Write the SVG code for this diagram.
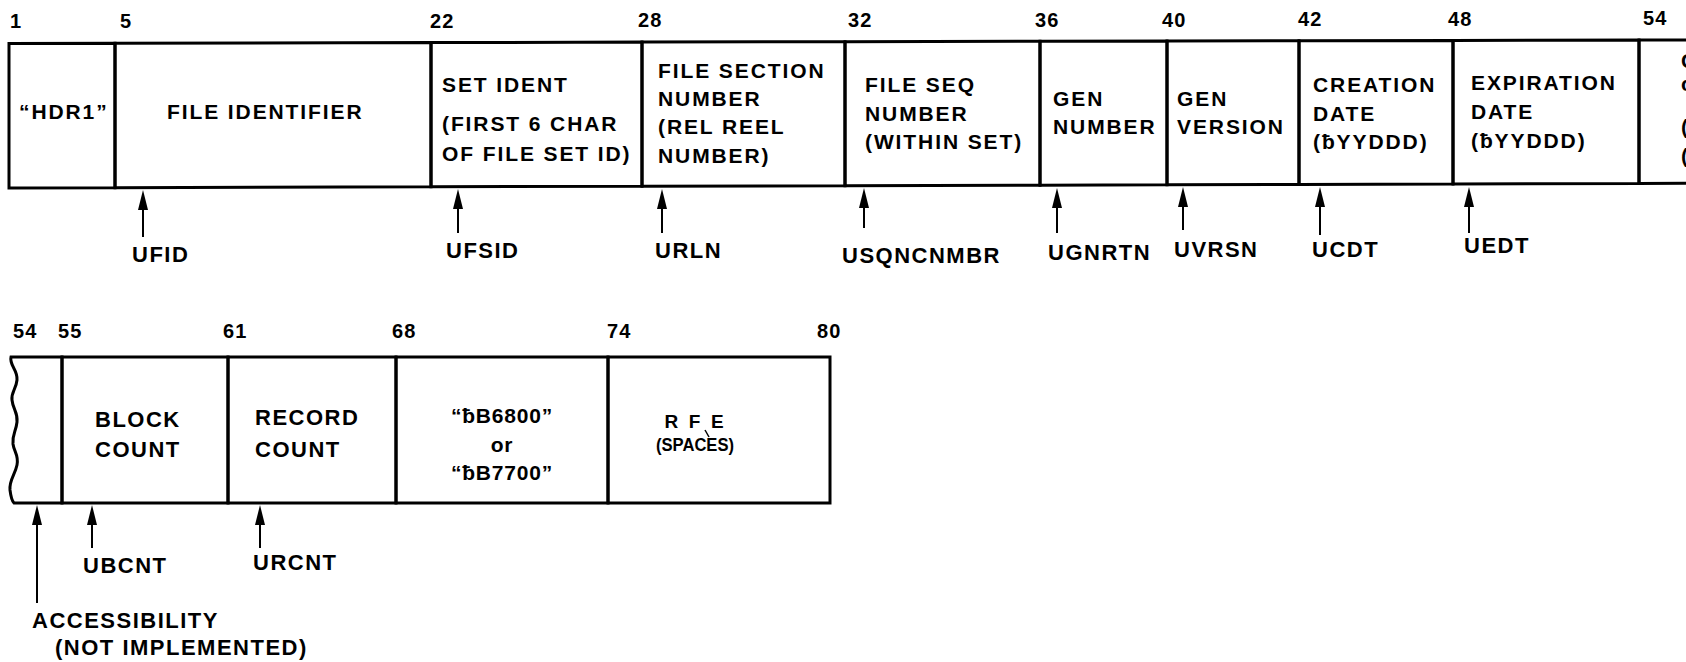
<svg xmlns="http://www.w3.org/2000/svg" width="1686" height="662" viewBox="0 0 1686 662">
<style>
.box{fill:none;stroke:#000;stroke-width:3;stroke-linejoin:miter}
text{font-family:"Liberation Sans","DejaVu Sans",Arial,sans-serif;font-weight:bold;fill:#000}
.t{font-size:21px;letter-spacing:1.9px}
.n{font-size:20px;letter-spacing:1.2px}
.l{font-size:22px;letter-spacing:1.5px}
.c{font-size:21px;letter-spacing:0.8px;text-anchor:middle}
.s{font-size:19px;text-anchor:middle}
.arr{stroke:#000;stroke-width:2;fill:none}
</style>
<defs>
<marker id="ah" markerUnits="userSpaceOnUse" markerWidth="20" markerHeight="10" refX="0" refY="5" orient="auto" viewBox="0 0 20 10">
<path d="M0,0 L20,5 L0,10 Z" fill="#000"/>
</marker>
</defs>
<rect width="1686" height="662" fill="#fff"/>

<g id="numbers-top">
<text class="n" x="10" y="28">1</text>
<text class="n" x="120" y="28">5</text>
<text class="n" x="430" y="28">22</text>
<text class="n" x="638" y="27">28</text>
<text class="n" x="848" y="27">32</text>
<text class="n" x="1035" y="27">36</text>
<text class="n" x="1162" y="27">40</text>
<text class="n" x="1298" y="26">42</text>
<text class="n" x="1448" y="26">48</text>
<text class="n" x="1643" y="25">54</text>
</g>

<g id="f1">
<polygon class="box" points="9,43.5 115,43.3 115,187.7 9,188"/>
<text class="t" x="19" y="119" letter-spacing="2.5">“HDR1”</text>
</g>
<g id="f5">
<polygon class="box" points="115,43.3 431,42.6 431,186.8 115,187.7"/>
<text class="t" x="167" y="119" letter-spacing="2.9">FILE IDENTIFIER</text>
</g>
<g id="f22">
<polygon class="box" points="431,42.6 642,42.1 642,186.3 431,186.8"/>
<text class="t" x="442" y="92">SET IDENT</text>
<text class="t" x="442" y="131">(FIRST 6 CHAR</text>
<text class="t" x="442" y="161">OF FILE SET ID)</text>
</g>
<g id="f28">
<polygon class="box" points="642,42.1 845,41.7 845,185.7 642,186.3"/>
<text class="t" x="658" y="78">FILE SECTION</text>
<text class="t" x="658" y="106">NUMBER</text>
<text class="t" x="658" y="134">(REL REEL</text>
<text class="t" x="658" y="163">NUMBER)</text>
</g>
<g id="f32">
<polygon class="box" points="845,41.7 1040,41.3 1040,185.2 845,185.7"/>
<text class="t" x="865" y="92">FILE SEQ</text>
<text class="t" x="865" y="121">NUMBER</text>
<text class="t" x="865" y="149">(WITHIN SET)</text>
</g>
<g id="f36">
<polygon class="box" points="1040,41.3 1167,41 1167,184.8 1040,185.2"/>
<text class="t" x="1053" y="106">GEN</text>
<text class="t" x="1053" y="134">NUMBER</text>
</g>
<g id="f40">
<polygon class="box" points="1167,41 1299,40.7 1299,184.4 1167,184.8"/>
<text class="t" x="1177" y="106">GEN</text>
<text class="t" x="1177" y="134">VERSION</text>
</g>
<g id="f42">
<polygon class="box" points="1299,40.7 1453,40.4 1453,184 1299,184.4"/>
<text class="t" x="1313" y="92">CREATION</text>
<text class="t" x="1313" y="121">DATE</text>
<text class="t" x="1313" y="149">(ƀYYDDD)</text>
</g>
<g id="f48">
<polygon class="box" points="1453,40.4 1639,40 1639,183.5 1453,184"/>
<text class="t" x="1471" y="90">EXPIRATION</text>
<text class="t" x="1471" y="119">DATE</text>
<text class="t" x="1471" y="148">(ƀYYDDD)</text>
</g>
<g id="f54">
<polyline class="box" points="1700,39.9 1639,40 1639,183.5 1700,183.3"/>
<text class="t" x="1681" y="68">C</text>
<text class="t" x="1681" y="91">c</text>
<text class="t" x="1681" y="134">(</text>
<text class="t" x="1681" y="163">(</text>
</g>

<g id="numbers-bottom">
<text class="n" x="13" y="338">54</text>
<text class="n" x="58" y="338">55</text>
<text class="n" x="223" y="338">61</text>
<text class="n" x="392" y="338">68</text>
<text class="n" x="607" y="338">74</text>
<text class="n" x="817" y="338">80</text>
</g>

<g id="b54">
<path class="box" d="M62,357 H11 C9,365 18,370 17,380 C16,390 11,392 12,400 C13,410 18,412 17,422 C16,432 12,434 13,444 C14,452 19,455 17,465 C15,475 9,480 10,490 C11,498 12,501 14,503 H62 Z"/>
</g>
<g id="b55">
<rect class="box" x="62" y="357" width="166" height="146"/>
<text class="l" x="95" y="427" font-size="21">BLOCK</text>
<text class="l" x="95" y="457" font-size="21">COUNT</text>
</g>
<g id="b61">
<rect class="box" x="228" y="357" width="168" height="146"/>
<text class="l" x="255" y="425" font-size="21">RECORD</text>
<text class="l" x="255" y="457" font-size="21">COUNT</text>
</g>
<g id="b68">
<rect class="box" x="396" y="357" width="212" height="146"/>
<text class="c" x="502" y="423">“ƀB6800”</text>
<text class="c" x="502" y="452">or</text>
<text class="c" x="502" y="480">“ƀB7700”</text>
</g>
<g id="b74">
<rect class="box" x="608" y="357" width="222" height="146"/>
<text class="s" x="694" y="428" xml:space="preserve">R  F  E</text>
<text class="s" x="695" y="451" textLength="78" lengthAdjust="spacingAndGlyphs">(SPACES)</text>
<line x1="705" y1="430" x2="709" y2="437" stroke="#000" stroke-width="1.5"/>
</g>

<g id="connectors">
<line class="arr" x1="143" y1="237" x2="143" y2="210" marker-end="url(#ah)"/>
<line class="arr" x1="458" y1="233" x2="458" y2="209" marker-end="url(#ah)"/>
<line class="arr" x1="662" y1="233" x2="662" y2="209" marker-end="url(#ah)"/>
<line class="arr" x1="864" y1="228" x2="864" y2="208" marker-end="url(#ah)"/>
<line class="arr" x1="1057" y1="233" x2="1057" y2="208" marker-end="url(#ah)"/>
<line class="arr" x1="1183" y1="230" x2="1183" y2="207" marker-end="url(#ah)"/>
<line class="arr" x1="1320" y1="235" x2="1320" y2="207" marker-end="url(#ah)"/>
<line class="arr" x1="1469" y1="233" x2="1469" y2="207" marker-end="url(#ah)"/>
<line class="arr" x1="37" y1="603" x2="37" y2="525" marker-end="url(#ah)"/>
<line class="arr" x1="92" y1="548" x2="92" y2="525" marker-end="url(#ah)"/>
<line class="arr" x1="260" y1="548" x2="260" y2="525" marker-end="url(#ah)"/>
</g>

<g id="labels">
<text class="l" x="132" y="262" letter-spacing="2.5">UFID</text>
<text class="l" x="446" y="258">UFSID</text>
<text class="l" x="655" y="258">URLN</text>
<text class="l" x="842" y="263" letter-spacing="2.2">USQNCNMBR</text>
<text class="l" x="1048" y="260">UGNRTN</text>
<text class="l" x="1174" y="257">UVRSN</text>
<text class="l" x="1312" y="257">UCDT</text>
<text class="l" x="1464" y="253">UEDT</text>
<text class="l" x="83" y="573">UBCNT</text>
<text class="l" x="253" y="570">URCNT</text>
<text class="l" x="32" y="628" letter-spacing="1.3" font-size="21">ACCESSIBILITY</text>
<text class="l" x="55" y="655" letter-spacing="2.3" font-size="21">(NOT IMPLEMENTED)</text>
</g>
</svg>
